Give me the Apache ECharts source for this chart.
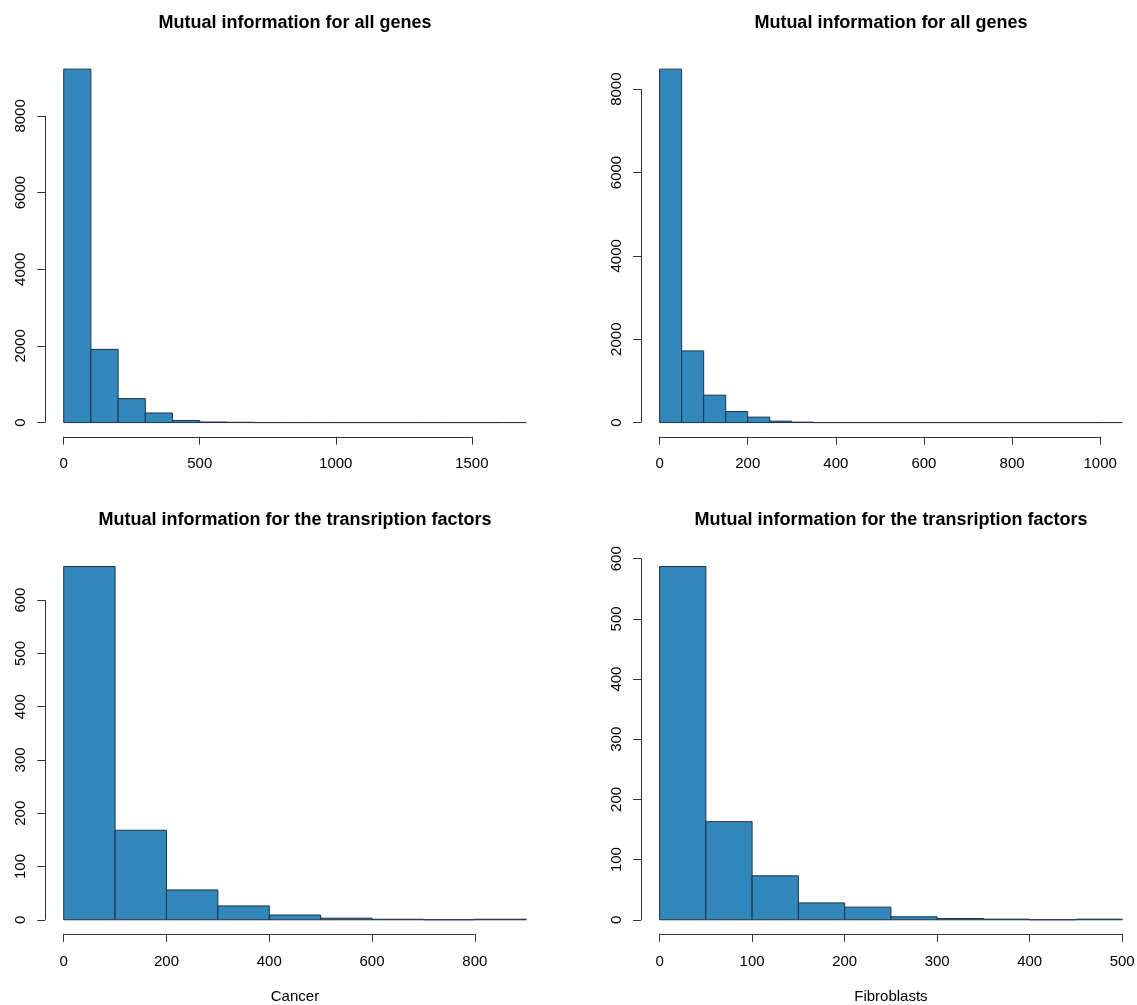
<!DOCTYPE html>
<html><head><meta charset="utf-8">
<script src="https://cdn.jsdelivr.net/npm/echarts@6/dist/echarts.min.js"></script>
<style>html,body{margin:0;padding:0;background:#fff}#chart{width:1137px;height:1005px}</style>
</head><body><div id="chart"></div>
<script>
// ---- data ----
const edgesCancerAll = [0,100,200,300,400,500,600,700,800,900,1000,1100,1200,1300,1400,1500,1600,1700];
const countsCancerAll = [9220,1910,625,250,55,15,8,0,0,0,0,0,0,0,0,0,1];
const edgesFibroAll = [0,50,100,150,200,250,300,350,400,450,500,550,600,650,700,750,800,850,900,950,1000,1050];
const countsFibroAll = [8480,1720,657,264,130,34,10,0,0,0,0,0,0,0,0,0,0,0,0,0,1];
const edgesCancerTF = [0,100,200,300,400,500,600,700,800,900];
const countsCancerTF = [663,168,56,26,9,3,1,0,1];
const edgesFibroTF = [0,50,100,150,200,250,300,350,400,450,500];
const countsFibroTF = [587,163,73,28,21,5,2,1,0,1];

const xTicksCancerAll = [0,500,1000,1500];
const xTicksFibroAll = [0,200,400,600,800,1000];
const xTicksCancerTF = [0,200,400,600,800];
const xTicksFibroTF = [0,100,200,300,400,500];
const yTicksAll = [0,2000,4000,6000,8000];
const yTicksTF = [0,100,200,300,400,500,600];

const titleAll = 'Mutual information for all genes';
const titleTF = 'Mutual information for the transription factors';
const xNameCancer = 'Cancer';
const xNameFibro = 'Fibroblasts';

// ---- layout / style ----
const FONT = '"Liberation Sans", Arial, Helvetica, sans-serif';
const FILL = '#3288BD';
const EDGE = '#1e3347';
const AXIS = '#333';

const panels = [
  {edges: edgesCancerAll, counts: countsCancerAll, xt: xTicksCancerAll, yt: yTicksAll, title: titleAll, xname: '', left: 45.2, top: 55, w: 499.5, h: 381.7},
  {edges: edgesFibroAll, counts: countsFibroAll, xt: xTicksFibroAll, yt: yTicksAll, title: titleAll, xname: '', left: 641.1, top: 55, w: 499.6, h: 381.7},
  {edges: edgesCancerTF, counts: countsCancerTF, xt: xTicksCancerTF, yt: yTicksTF, title: titleTF, xname: xNameCancer, left: 45.2, top: 552.4, w: 499.5, h: 381.5},
  {edges: edgesFibroTF, counts: countsFibroTF, xt: xTicksFibroTF, yt: yTicksTF, title: titleTF, xname: xNameFibro, left: 641.1, top: 552.4, w: 499.6, h: 381.5}
];

const option = {
  animation: false,
  backgroundColor: '#fff',
  textStyle: {fontFamily: FONT},
  title: [], grid: [], xAxis: [], yAxis: [], series: []
};

const plain = v => String(v);

panels.forEach((p, i) => {
  const x0 = p.edges[0], x1 = p.edges[p.edges.length - 1];
  const xr = x1 - x0;
  const xmin = x0 - 0.04 * xr, xmax = x1 + 0.04 * xr;
  const ymaxC = Math.max(...p.counts);
  const ymin = -0.04 * ymaxC, ymax = 1.04 * ymaxC;

  option.grid.push({left: p.left, top: p.top, width: p.w, height: p.h, containLabel: false, outerBoundsMode: 'none'});
  option.title.push({
    text: p.title, left: p.left + p.w / 2, top: p.top - 41, textAlign: 'center', padding: 0,
    textStyle: {fontFamily: FONT, fontSize: 18, fontWeight: 'bold', color: '#000'}
  });
  option.xAxis.push({
    type: 'value', gridIndex: i, min: xmin, max: xmax, position: 'bottom',
    axisLine: {show: false, onZero: false},
    splitLine: {show: false},
    axisTick: {show: true, length: 8, customValues: p.xt, lineStyle: {color: AXIS, width: 1}},
    axisLabel: {show: true, customValues: p.xt, formatter: plain, margin: 20, fontSize: 15, color: '#000', fontFamily: FONT},
    name: p.xname, nameLocation: 'middle', nameGap: 55, nameMoveOverlap: false,
    nameTextStyle: {fontSize: 15, color: '#000', fontFamily: FONT}
  });
  option.yAxis.push({
    type: 'value', gridIndex: i, min: ymin, max: ymax, position: 'left',
    axisLine: {show: false, onZero: false},
    splitLine: {show: false},
    axisTick: {show: true, length: 8, customValues: p.yt, lineStyle: {color: AXIS, width: 1}},
    axisLabel: {show: true, customValues: p.yt, formatter: plain, margin: 17, rotate: 90, fontSize: 15, color: '#000', fontFamily: FONT}
  });

  const bins = p.counts.map((c, k) => [p.edges[k], p.edges[k + 1], c]);
  option.series.push({
    type: 'custom', xAxisIndex: i, yAxisIndex: i, silent: true,
    data: bins,
    encode: {x: [0, 1], y: 2},
    renderItem: function (params, api) {
      const a = api.coord([api.value(0), 0]);
      const b = api.coord([api.value(1), api.value(2)]);
      return {
        type: 'rect',
        shape: {x: a[0], y: b[1], width: b[0] - a[0], height: a[1] - b[1]},
        style: {fill: FILL, stroke: EDGE, lineWidth: 1}
      };
    }
  });
  // R-style axis lines spanning first to last tick
  option.series.push({
    type: 'custom', xAxisIndex: i, yAxisIndex: i, silent: true,
    data: [[xmin, ymin]],
    renderItem: function (params, api) {
      const xa = api.coord([p.xt[0], ymin]);
      const xb = api.coord([p.xt[p.xt.length - 1], ymin]);
      const ya = api.coord([xmin, p.yt[0]]);
      const yb = api.coord([xmin, p.yt[p.yt.length - 1]]);
      const r = v => Math.round(v) + 0.5;
      return {
        type: 'group',
        children: [
          {type: 'line', shape: {x1: xa[0], y1: r(xa[1]), x2: xb[0], y2: r(xb[1])}, style: {stroke: AXIS, lineWidth: 1}},
          {type: 'line', shape: {x1: r(ya[0]), y1: ya[1], x2: r(yb[0]), y2: yb[1]}, style: {stroke: AXIS, lineWidth: 1}}
        ]
      };
    }
  });
});

const chart = echarts.init(document.getElementById('chart'), null, {renderer: 'canvas'});
chart.setOption(option);
</script>
</body></html>
